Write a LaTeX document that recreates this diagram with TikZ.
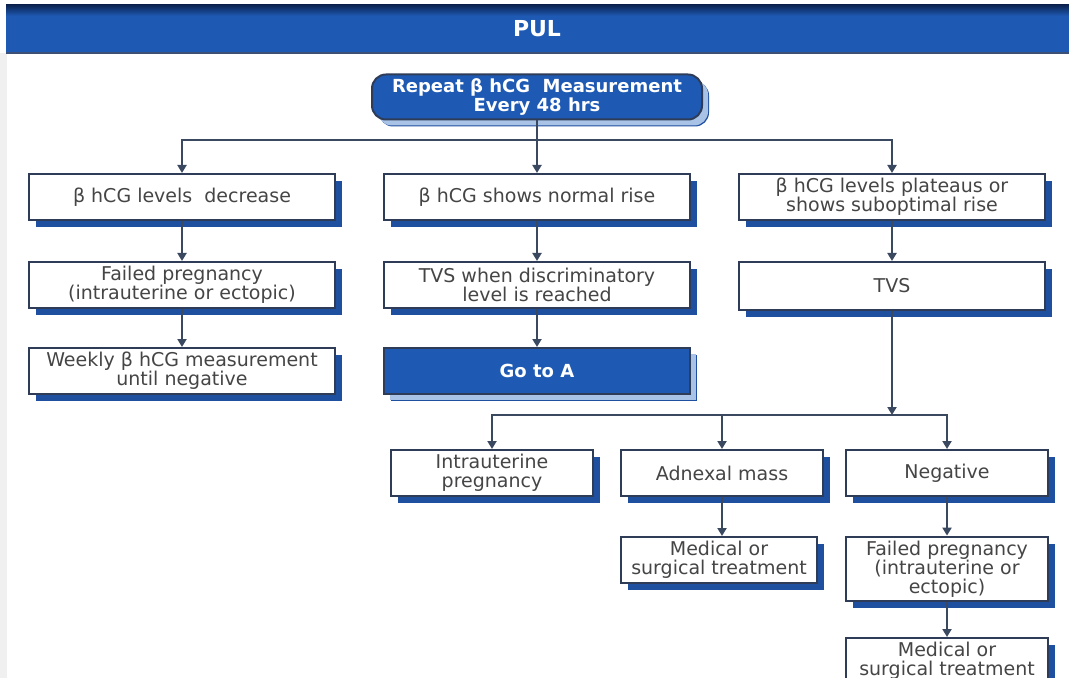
\documentclass[tikz,border=0pt]{standalone}
\usepackage{fontspec}
\setmainfont{DejaVu Sans}
\usetikzlibrary{arrows.meta, positioning, shadows, calc}
\definecolor{pulblue}{HTML}{1E5AB4}
\definecolor{pulnavy}{HTML}{0B2452}
\definecolor{shadowblue}{HTML}{1F4F9F}
\definecolor{paleblue}{HTML}{A9C3E6}
\definecolor{boxline}{HTML}{2E3C58}
\definecolor{linegray}{HTML}{3B4960}
\definecolor{textgray}{HTML}{454545}

\begin{document}
\begin{tikzpicture}[x=0.5pt, y=-0.5pt,
    box/.style={draw=boxline, line width=1pt, fill=white, text=textgray, align=center,
                font=\fontsize{9.5}{9.6}\selectfont, inner sep=2pt, minimum height=23pt,
                drop shadow={shadow xshift=3.5pt, shadow yshift=-3.5pt, fill=shadowblue, opacity=1}},
    widebox/.style={box, minimum width=153pt},
    narrowbox/.style={box, minimum width=101pt},
    bluebox/.style={box, fill=pulblue, text=white, font=\fontsize{9}{9.6}\selectfont\bfseries,
                drop shadow={shadow xshift=3pt, shadow yshift=-3pt, fill=paleblue, opacity=1}},
    arr/.style={-{Triangle[length=4pt, width=4.5pt]}, line width=1pt, draw=linegray},
    link/.style={line width=1pt, draw=linegray}
]
    \useasboundingbox (0,0) rectangle (1069,678);
    \clip (0,0) rectangle (1069,678);

    % Header band
    \fill[gray!12] (0,53) rectangle (7,678);
    \fill[pulblue] (6,5) rectangle (1069,53);
    \shade[top color=pulnavy, bottom color=pulblue] (6,5) rectangle (1069,16);
    \draw[pulnavy!80, line width=0.8pt] (6,53) -- (1069,53);
    \node[text=white, font=\fontsize{11}{12}\selectfont\bfseries] (title) at (537,29) {PUL};

    % Start
    \node[bluebox, rounded corners=7pt, minimum width=165pt, minimum height=22.5pt] (repeat) at (537,97)
        {Repeat β hCG\ \ Measurement\\Every 48 hrs};
    \coordinate (split) at (537,140);

    % Row 1
    \node[widebox] (decrease) at (182,197) {β hCG levels\ \ decrease};
    \node[widebox] (rise) at (537,197) {β hCG shows normal rise};
    \node[widebox] (plateau) at (892,197) {β hCG levels plateaus or\\shows suboptimal rise};

    % Row 2
    \node[widebox] (failed) at (182,285) {Failed pregnancy\\(intrauterine or ectopic)};
    \node[widebox] (tvsdisc) at (537,285) {TVS when discriminatory\\level is reached};
    \node[widebox, minimum height=24pt] (tvs) at (892,286) {TVS};

    % Row 3
    \node[widebox] (weekly) at (182,371) {Weekly β hCG measurement\\until negative};
    \node[widebox, bluebox] (gotoA) at (537,371) {Go to A};
    \coordinate (split2) at (892,415);

    % Row 4
    \node[narrowbox] (intra) at (492,473) {Intrauterine\\pregnancy};
    \node[narrowbox] (adnexal) at (722,473) {Adnexal mass};
    \node[narrowbox] (negative) at (947,473) {Negative};

    % Row 5 and 6
    \node[narrowbox, minimum width=98pt] (medical) at (719,560) {Medical or\\surgical treatment};
    \node[narrowbox] (failed2) at (947,569) {Failed pregnancy\\(intrauterine or\\ectopic)};
    \node[narrowbox] (medical2) at (947,661) {Medical or\\surgical treatment};

    % Links from the start
    \draw[link] (repeat) -- (split);
    \draw[arr] (split) -| (decrease);
    \draw[arr] (split) -- (rise);
    \draw[arr] (split) -| (plateau);

    % Column links
    \draw[arr] (decrease) -- (failed);
    \draw[arr] (failed) -- (weekly);
    \draw[arr] (rise) -- (tvsdisc);
    \draw[arr] (tvsdisc) -- (gotoA);
    \draw[arr] (plateau) -- (tvs);

    % TVS outcomes
    \draw[arr] (tvs) -- (split2);
    \draw[arr] (split2) -| (intra);
    \draw[arr] (split2) -| (negative);
    \draw[arr] (adnexal |- split2) -- (adnexal);
    \draw[arr] (adnexal) -- (adnexal |- medical.north);
    \draw[arr] (negative) -- (failed2);
    \draw[arr] (failed2) -- (medical2);
\end{tikzpicture}
\end{document}
